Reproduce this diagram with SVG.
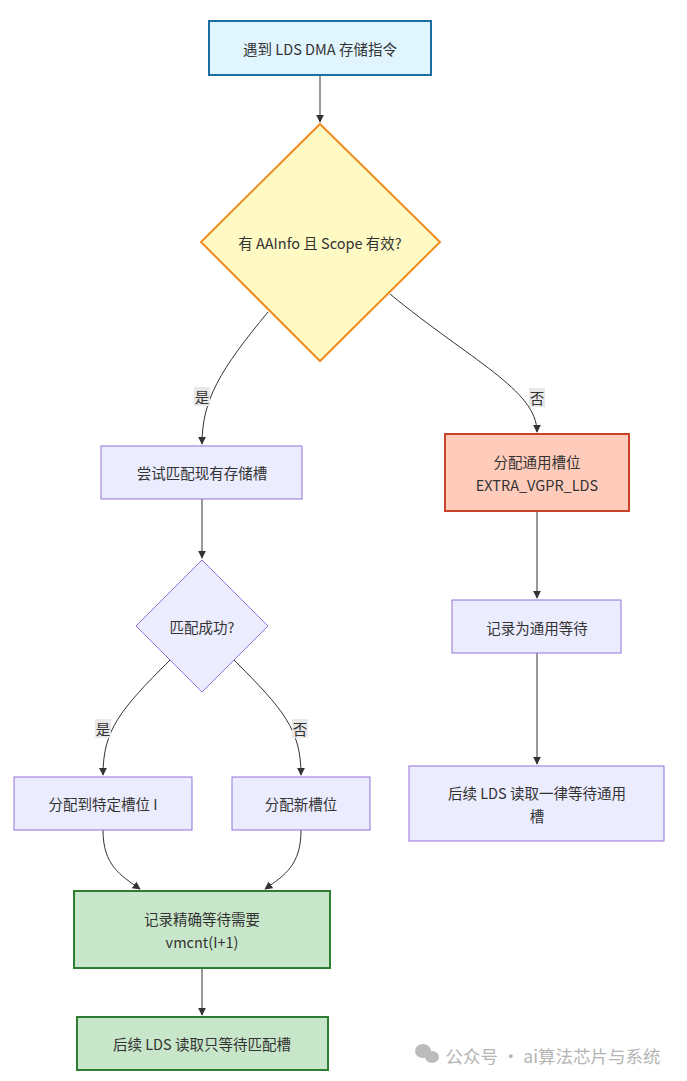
<svg xmlns="http://www.w3.org/2000/svg" width="687" height="1081" viewBox="0 0 687 1081">
<style>
text{font-family:"Noto Sans CJK SC","Liberation Sans",sans-serif;font-size:14.5px;fill:#333;text-anchor:middle;dominant-baseline:central}
.e{fill:none;stroke:#333;stroke-width:1}
.p{fill:#ececff;stroke:#9370db;stroke-width:1}
.g{fill:#c8e6c9;stroke:#2e7d32;stroke-width:2}
.lb{fill:#e8e8e8}
</style>
<defs><marker id="a" viewBox="0 0 10 10" refX="9" refY="5" markerWidth="8" markerHeight="8" orient="auto"><path d="M0,0L10,5L0,10z" fill="#333"/></marker></defs>
<rect width="687" height="1081" fill="#fff"/>
<g id="connectors">
<path class="e" marker-end="url(#a)" d="M320,75V122"/>
<path class="e" marker-end="url(#a)" d="M268,312C220,370 202,400 202,444"/>
<path class="e" marker-end="url(#a)" d="M390,294C470,360 537,390 537,432"/>
<path class="e" marker-end="url(#a)" d="M202,499V558"/>
<path class="e" marker-end="url(#a)" d="M537,511V598"/>
<path class="e" marker-end="url(#a)" d="M537,653V764"/>
<path class="e" marker-end="url(#a)" d="M170,660C120,710 103,730 103,775"/>
<path class="e" marker-end="url(#a)" d="M234,660C284,710 301,730 301,775"/>
<path class="e" marker-end="url(#a)" d="M103,830C103,865 120,875 140,889"/>
<path class="e" marker-end="url(#a)" d="M301,830C301,865 285,875 265,889"/>
<path class="e" marker-end="url(#a)" d="M202,968V1015"/>
<rect class="lb" x="194" y="387" width="16" height="19"/><text x="202" y="396">是</text>
<rect class="lb" x="529" y="388" width="16" height="19"/><text x="537" y="397">否</text>
<rect class="lb" x="95" y="719" width="16" height="19"/><text x="103" y="728">是</text>
<rect class="lb" x="292" y="719" width="16" height="19"/><text x="300" y="728">否</text>
</g>
<g id="n1"><rect x="209" y="21" width="222" height="54" fill="#e1f5fe" stroke="#1a6ea0" stroke-width="2"/><text x="320" y="48">遇到 LDS DMA 存储指令</text></g>
<g id="n2"><polygon points="320,124 440,242 320,361 201,242" fill="#fff9c4" stroke="#f08c1e" stroke-width="2"/><text x="320" y="242">有 AAInfo 且 Scope 有效?</text></g>
<g id="n3"><rect class="p" x="101" y="446" width="201" height="53"/><text x="202" y="472">尝试匹配现有存储槽</text></g>
<g id="n4"><rect x="445" y="434" width="184" height="77" fill="#ffccbc" stroke="#c9432a" stroke-width="2"/><text x="537" y="461">分配通用槽位</text><text x="537" y="484">EXTRA_VGPR_LDS</text></g>
<g id="n5"><polygon class="p" points="202,560 268,626 202,692 136,626"/><text x="202" y="626">匹配成功?</text></g>
<g id="n6"><rect class="p" x="452" y="600" width="169" height="53"/><text x="537" y="627">记录为通用等待</text></g>
<g id="n7"><rect class="p" x="409" y="766" width="255" height="75"/><text x="537" y="792">后续 LDS 读取一律等待通用</text><text x="537" y="815">槽</text></g>
<g id="n8"><rect class="p" x="14" y="777" width="178" height="53"/><text x="103" y="803">分配到特定槽位 I</text></g>
<g id="n9"><rect class="p" x="232" y="777" width="138" height="53"/><text x="301" y="803">分配新槽位</text></g>
<g id="n10"><rect class="g" x="74" y="891" width="256" height="77"/><text x="202" y="918">记录精确等待需要</text><text x="202" y="941">vmcnt(I+1)</text></g>
<g id="n11"><rect class="g" x="77" y="1017" width="251" height="53"/><text x="202" y="1043">后续 LDS 读取只等待匹配槽</text></g>
<g id="wm" fill="#bbb"><ellipse cx="423" cy="1051" rx="8" ry="7"/><ellipse cx="432" cy="1057" rx="7" ry="6"/><text x="553" y="1055" style="fill:#b4b4b4;font-size:17.5px">公众号 · ai算法芯片与系统</text></g>
</svg>
